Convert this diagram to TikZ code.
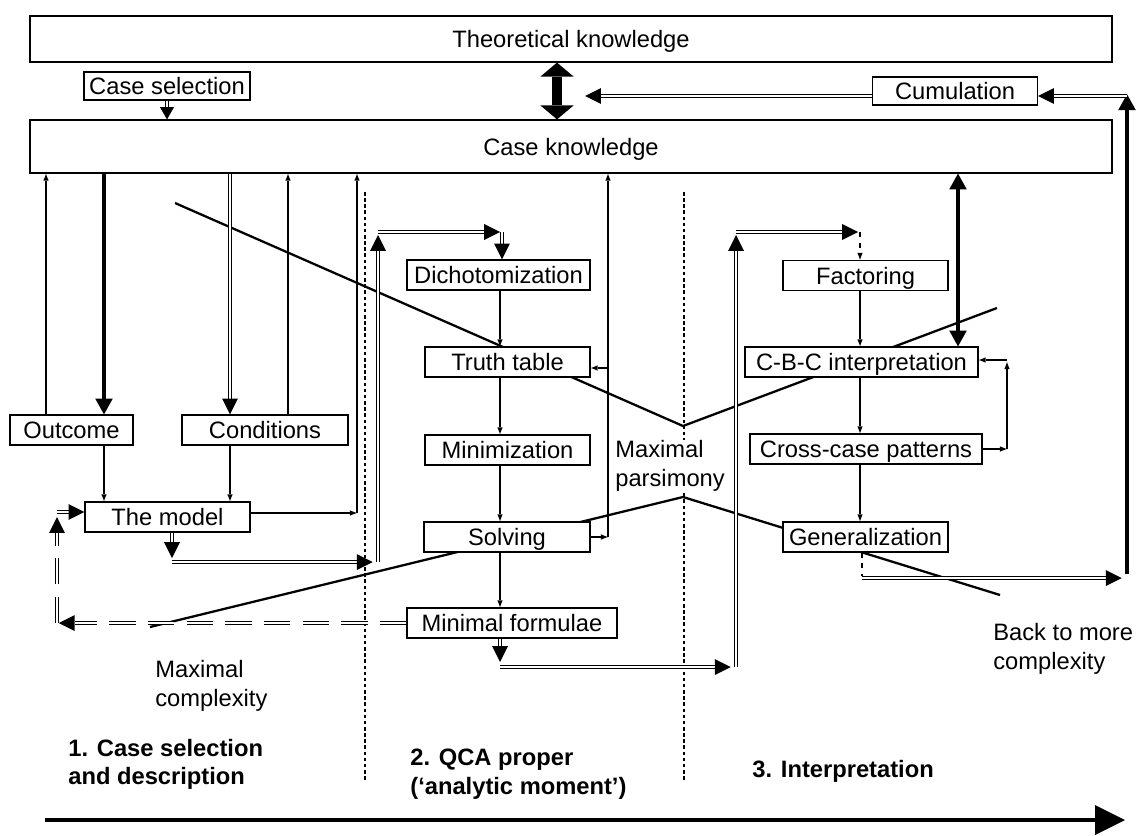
\documentclass[tikz,border=0pt]{standalone}
\usepackage{fontspec}
\setmainfont{Liberation Sans}
\usetikzlibrary{arrows.meta}

\begin{document}
\begin{tikzpicture}[
    x=0.02cm, y=-0.02cm,
    box/.style={draw, fill=white, line width=0.7pt, inner sep=0pt, minimum height=0.6cm, text height=9.7pt, text depth=0pt, font=\fontsize{13.5}{16.5}\selectfont},
    note/.style={anchor=north west, inner sep=0pt, align=left, font=\fontsize{13.5}{16.5}\selectfont},
    phase/.style={note, font=\fontsize{13.5}{16}\selectfont\bfseries},
    link/.style={line width=0.6pt, -{Latex[length=4pt,width=3pt,line width=0pt]}},
    heavy/.style={line width=2pt, -{Triangle[length=9pt,width=10pt,line width=0pt]}},
    dbl/.style={double, double distance=1.1pt, line width=0.6pt, -{Triangle[length=9pt,width=9pt,line width=0pt]}},
    gapped/.style={dash pattern=on 15pt off 7pt},
    divider/.style={line width=0.6pt, dash pattern=on 2pt off 1.5pt},
    sweep/.style={line width=1.3pt}
]
\useasboundingbox (0,0) rectangle (1138,835);

% phase dividers and the complexity sweep
\draw[divider] (365,192) -- (365,780);
\draw[divider] (684,192) -- (684,780);
\draw[sweep] (175,203) -- (683,426) -- (997,308);
\draw[sweep] (150,627) -- (683,497) -- (1000,595);

% knowledge layers
\node[box, minimum width=21.64cm, minimum height=0.92cm] (theory) at (571,39) {Theoretical knowledge};
\node[box, minimum width=3.32cm, minimum height=0.56cm] (casesel) at (167,86) {Case selection};
\node[box, minimum width=21.64cm, minimum height=1.06cm] (caseknow) at (571,146.5) {Case knowledge};
\node[box, minimum width=3.3cm, minimum height=0.56cm] (cumul) at (955,91) {Cumulation};

% 1. case selection and description
\node[box, minimum width=2.46cm] (outcome) at (71.5,430) {Outcome};
\node[box, minimum width=3.32cm] (cond) at (265,430) {Conditions};
\node[box, minimum width=3.3cm] (model) at (167.5,517) {The model};

% 2. QCA proper
\node[box, minimum width=3.66cm] (dicho) at (498.5,275) {Dichotomization};
\node[box, minimum width=3.3cm] (truth) at (507.5,362) {Truth table};
\node[box, minimum width=3.3cm] (minim) at (507.5,450) {Minimization};
\node[box, minimum width=3.32cm] (solving) at (507,537) {Solving};
\node[box, minimum width=4.2cm] (minform) at (512,623) {Minimal formulae};

% 3. interpretation
\node[box, minimum width=3.3cm] (factor) at (865.5,275.5) {Factoring};
\node[box, minimum width=4.66cm] (cbc) at (861.5,362) {C-B-C interpretation};
\node[box, minimum width=4.64cm] (cross) at (866,449) {Cross-case patterns};
\node[box, minimum width=3.3cm] (general) at (865.5,537) {Generalization};

% free labels
\node[note] (maxcomplex) at (155,660) {Maximal\\complexity};
\node[note, fill=white] (maxpars) at (615,440) {Maximal\\parsimony};
\node[note] (backmore) at (993,623) {Back to more\\complexity};
\node[phase] (phase1) at (68,739) {1. Case selection\\and description};
\node[phase] (phase2) at (410,749) {2. QCA proper\\(‘analytic moment’)};
\node[phase] (phase3) at (752,760) {3. Interpretation};

% corners of the loops
\coordinate (modelturn) at (378,562);
\coordinate (formturn) at (736,667);
\coordinate (backturn) at (1127,578);
\coordinate (cumturn) at (1127,96);
\coordinate (feedturn) at (57,623);

% top links
\draw[dbl, -{Triangle[length=7pt,width=8pt,line width=0pt]}] (casesel.south) -- (casesel.south |- caseknow.north);
\draw[line width=6pt, {Triangle[length=8pt,width=19pt,line width=0pt]}-{Triangle[length=8pt,width=19pt,line width=0pt]}] (theory.south -| 557,0) -- (caseknow.north -| 557,0);
\draw[dbl] (cumul.west |- cumturn) -- (585,96);

% case knowledge and the model
\draw[link] (outcome.north -| 46,0) -- (caseknow.south -| 46,0);
\draw[heavy] (caseknow.south -| 104,0) -- (outcome.north -| 104,0);
\draw[dbl] (caseknow.south -| 230,0) -- (cond.north -| 230,0);
\draw[link] (cond.north -| 288,0) -- (caseknow.south -| 288,0);
\draw[link] (outcome.south -| 104,0) -- (model.north -| 104,0);
\draw[link] (cond.south -| 230,0) -- (model.north -| 230,0);
\draw[link] (model.east |- 0,513) -- (357,513);
\draw[link] (357,513) -- (caseknow.south -| 357,0);

% the model into QCA proper
\draw[dbl] (model.south -| 172,0) -- (172,558);
\draw[dbl] (172,562) -- ([xshift=-3]modelturn);
\draw[dbl] (modelturn) -- (378,235);
\draw[dbl] (378,232) -- (500,232);
\draw[dbl] (502,232) -- (dicho.north -| 502,0);

% QCA chain
\draw[link] (dicho.south -| 500,0) -- (truth.north -| 500,0);
\draw[link] (truth.south -| 500,0) -- (minim.north -| 500,0);
\draw[link] (minim.south -| 500,0) -- (solving.north -| 500,0);
\draw[link] (solving.south -| 500,0) -- (minform.north -| 500,0);
\draw[link] (solving.east) -- (608,537);
\draw[link] (608,537) -- (caseknow.south -| 608,0);
\draw[link] (608,368) -- (truth.east |- 0,368);

% minimal formulae onwards
\draw[dbl] (minform.south -| 500,0) -- (500,662);
\draw[dbl] (500,667) -- ([xshift=-3]formturn);
\draw[dbl] (formturn) -- (736,235);
\draw[dbl] (736,232) -- (858,232);
\draw[link, dashed] (860,232) -- (factor.north -| 860,0);

% back to the model
\draw[dbl, gapped] (minform.west) -- ([xshift=1]feedturn);
\draw[dbl, gapped] (feedturn) -- (57,517);
\draw[dbl] (57,512) -- (model.west |- 0,512);

% interpretation chain
\draw[link] (factor.south -| 860,0) -- (cbc.north -| 860,0);
\draw[link] (cbc.south -| 860,0) -- (cross.north -| 860,0);
\draw[link] (cross.south -| 860,0) -- (general.north -| 860,0);
\draw[link] (cross.east) -- (1007,449);
\draw[link] (1007,449) -- (1007,362);
\draw[link] (1007,360) -- (cbc.east |- 0,360);
\draw[heavy, {Triangle[length=9pt,width=10pt,line width=0pt]}-{Triangle[length=9pt,width=10pt,line width=0pt]}] (caseknow.south -| 958,0) -- (cbc.north -| 958,0);

% cumulation loop
\draw[dashed, line width=0.6pt] (general.south -| 862,0) -- (862,576);
\draw[dbl] (862,578) -- ([xshift=-3]backturn);
\draw[heavy] ([yshift=2]backturn) -- ([yshift=1]cumturn);
\draw[dbl] (cumturn) -- (cumul.east |- cumturn);

% time axis
\draw[line width=1.8pt, -{Triangle[length=17pt,width=17pt,line width=0pt]}] (45,820) -- (1125,820);

\end{tikzpicture}
\end{document}
